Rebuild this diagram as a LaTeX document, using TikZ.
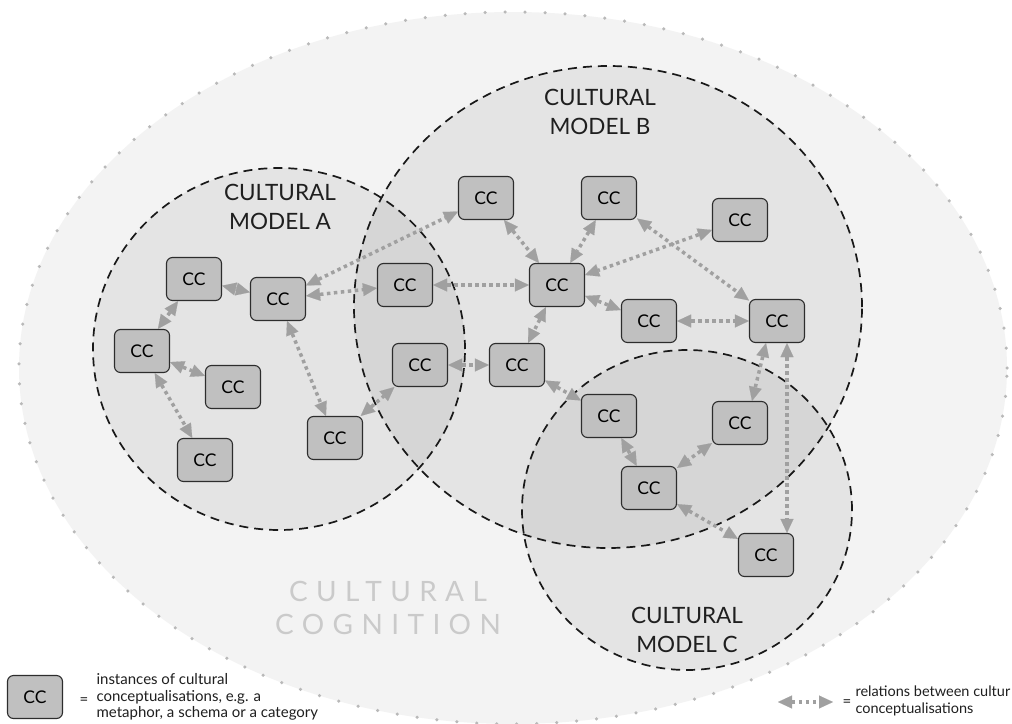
\documentclass[tikz,border=0pt]{standalone}
\usepackage{fontspec}
\setmainfont{Lato}
\usetikzlibrary{arrows.meta}
\definecolor{outerfill}{RGB}{243,243,243}
\definecolor{dotgray}{RGB}{185,185,185}
\definecolor{boxfill}{RGB}{192,192,192}
\definecolor{boxline}{RGB}{45,45,45}
\definecolor{arrgray}{RGB}{160,160,160}
\definecolor{cogtext}{RGB}{202,202,202}
\begin{document}
\begin{tikzpicture}[x=1pt,y=-1pt,
  cc/.style={draw=boxline, fill=boxfill, rounded corners=6pt, line width=1.1pt,
    minimum width=55pt, minimum height=43pt, inner sep=0pt,
    font=\fontsize{17.5}{17.5}\selectfont},
  rel/.style={draw=arrgray, line width=3.5pt, dash pattern=on 3.5pt off 3.5pt,
    {Triangle[length=14pt,width=13pt,line width=0.1pt]}-{Triangle[length=14pt,width=13pt,line width=0.1pt]}},
  model/.style={draw=black!90, line width=1.7pt, dash pattern=on 9pt off 6pt},
  mfill/.style={fill=black, fill opacity=0.06},
  title/.style={align=center, font=\fontsize{22.5}{29}\selectfont, text=black!88},
  legend/.style={align=left, anchor=west, font=\fontsize{15}{16.5}\selectfont, text=black!88}
]
\useasboundingbox (0,0) rectangle (1012,723);
\fill[white] (0,0) rectangle (1012,723);

% outer cultural cognition ellipse
\path[fill=outerfill] (513,368) ellipse [x radius=494pt, y radius=356pt];
\draw[dotgray, line width=3.5pt, line cap=round, dash pattern=on 0pt off 20pt]
  (513,368) ellipse [x radius=494pt, y radius=356pt];

% model fills
\path[mfill] (279,349) ellipse [x radius=186pt, y radius=181pt];
\path[mfill] (608,307) ellipse [x radius=254pt, y radius=241pt];
\path[mfill] (687,510) ellipse [x radius=165pt, y radius=160pt];
% model outlines
\draw[model] (279,349) ellipse [x radius=186pt, y radius=181pt];
\draw[model] (608,307) ellipse [x radius=254pt, y radius=241pt];
\draw[model] (687,510) ellipse [x radius=165pt, y radius=160pt];

% titles
\node[title] (tA) at (280,207) {CULTURAL\\MODEL A};
\node[title] (tB) at (600,112) {CULTURAL\\MODEL B};
\node[title] (tC) at (687,630) {CULTURAL\\MODEL C};
\node[align=center, text=cogtext, font=\fontsize{28}{33}\selectfont\addfontfeatures{LetterSpace=30}]
  (cog) at (388,608) {CULTURAL\\COGNITION};

% conceptualisations
\node[cc] (A1) at (194,279) {CC};
\node[cc] (A2) at (278,299) {CC};
\node[cc] (A3) at (142,351) {CC};
\node[cc] (A4) at (233,387) {CC};
\node[cc] (A5) at (205,460) {CC};
\node[cc] (A6) at (335,438) {CC};
\node[cc] (AB1) at (405,285) {CC};
\node[cc] (AB2) at (420,365) {CC};
\node[cc] (B1) at (486,198) {CC};
\node[cc] (B2) at (609,198) {CC};
\node[cc] (B3) at (740,220) {CC};
\node[cc] (B4) at (557,285) {CC};
\node[cc] (B5) at (649,321) {CC};
\node[cc] (B6) at (777,321) {CC};
\node[cc] (B7) at (517,365) {CC};
\node[cc] (BC1) at (609,416) {CC};
\node[cc] (BC2) at (740,423) {CC};
\node[cc] (BC3) at (649,488) {CC};
\node[cc] (C1) at (766,555) {CC};

% relations
\draw[rel] (A1) -- (A2);
\draw[rel] (A1) -- (A3);
\draw[rel] (A3) -- (A4);
\draw[rel] (A3) -- (A5);
\draw[rel] (A2) -- (A6);
\draw[rel] (A2) -- (AB1);
\draw[rel] (A2) -- (B1);
\draw[rel] (A6) -- (AB2);
\draw[rel] (AB1) -- (B4);
\draw[rel] (AB2) -- (B7);
\draw[rel] (B1) -- (B4);
\draw[rel] (B2) -- (B4);
\draw[rel] (B3) -- (B4);
\draw[rel] (B2) -- (B6);
\draw[rel] (B4) -- (B5);
\draw[rel] (B5) -- (B6);
\draw[rel] (B4) -- (B7);
\draw[rel] (B7) -- (BC1);
\draw[rel] (BC1) -- (BC3);
\draw[rel] (BC2) -- (BC3);
\draw[rel] ([xshift=-11pt]B6.south) -- ([xshift=12pt]BC2.north);
\draw[rel] ([xshift=10pt]B6.south) -- ([xshift=21pt]C1.north);
\draw[rel] (BC3) -- (C1);

% legend
\node[cc] (L1) at (35,697) {CC};
\node[font=\fontsize{15}{15}\selectfont, text=black!88] (eq1) at (84,701) {=};
\node[legend] (lt1) at (93,697) {instances of cultural\\conceptualisations, e.g. a\\metaphor, a schema or a category};
\coordinate (la) at (778,702);
\coordinate (lb) at (833,702);
\draw[rel] (la) -- (lb);
\node[font=\fontsize{15}{15}\selectfont, text=black!88] (eq2) at (847,703) {=};
\node[legend, font=\fontsize{14.5}{16.5}\selectfont] (lt2) at (852,701) {relations between cultur\\conceptualisations};
\end{tikzpicture}
\end{document}
